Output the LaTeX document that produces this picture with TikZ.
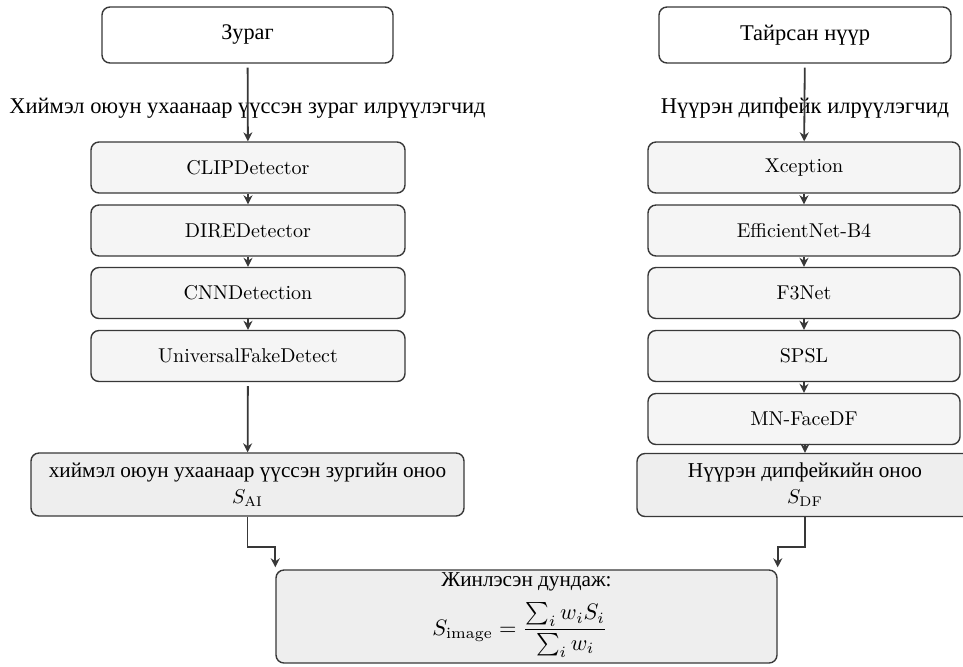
\documentclass[tikz,border=0pt]{standalone}
\usepackage{amsmath}
\usepackage{graphicx}
\usepackage{fontspec}
\newfontfamily\cyr{Liberation Serif}[Scale=1.06]
\usetikzlibrary{arrows.meta,calc}
\definecolor{edge}{HTML}{383838}
\definecolor{detfill}{HTML}{F5F5F5}
\definecolor{scorefill}{HTML}{EEEEEE}
\tikzset{
  base/.style={draw=edge, line width=0.7pt, rounded corners=4pt, align=center, inner sep=0pt},
  topbox/.style={base, fill=white, minimum width=145.5pt, minimum height=28pt},
  detbox/.style={base, fill=detfill, minimum height=25.5pt},
  scorebox/.style={base, fill=scorefill},
  grouplabel/.style={inner sep=1pt, font=\fontsize{10.6}{12}\selectfont},
  arr/.style={draw=edge, line width=0.9pt, -{Stealth[length=4.5pt,width=4.5pt]}},
}
\begin{document}
\begin{tikzpicture}[x=0.5pt,y=-0.5pt, font=\fontsize{10}{12}\selectfont]
\useasboundingbox (0,0) rectangle (963,666);
\clip (0,0) rectangle (963,666);

% inputs
\node[topbox, font=\fontsize{10.5}{12}\selectfont] (img) at (247.5,35) {\cyr Зураг};
\node[topbox, minimum width=146pt, font=\fontsize{10.6}{12}\selectfont] (face) at (805,35) {\cyr Тайрсан нүүр};

% group labels
\node[grouplabel] (imglbl) at (247.5,108) {\cyr Хиймэл оюун ухаанаар үүссэн зураг илрүүлэгчид};
\node[grouplabel] (facelbl) at (805,108) {\cyr Нүүрэн дипфейк илрүүлэгчид};

% AI-image detectors
\node[detbox, minimum width=157pt] (a1) at (248,167.5) {CLIPDetector};
\node[detbox, minimum width=157pt] (a2) at (248,230.5) {DIREDetector};
\node[detbox, minimum width=157pt] (a3) at (248,293) {CNNDetection};
\node[detbox, minimum width=157pt] (a4) at (248,356) {UniversalFakeDetect};

% face deepfake detectors
\node[detbox, minimum width=156pt] (b1) at (804,167.5) {Xception};
\node[detbox, minimum width=156pt] (b2) at (804,230.5) {EfficientNet-B4};
\node[detbox, minimum width=156pt] (b3) at (804,293) {F3Net};
\node[detbox, minimum width=156pt] (b4) at (804,356) {SPSL};
\node[detbox, minimum width=156pt] (b5) at (804,419) {MN-FaceDF};

% scores
\node[scorebox, minimum width=216.5pt, minimum height=31.5pt] (ais) at (247.5,484.5)
  {{\cyr хиймэл оюун ухаанаар үүссэн зургийн оноо}\\[1pt] $S_{\mathrm{AI}}$};
\node[scorebox, minimum width=168pt, minimum height=31.5pt] (dfs) at (805,485)
  {{\cyr Нүүрэн дипфейкийн оноо}\\[1pt] $S_{\mathrm{DF}}$};

% fusion: box, heading and formula
\node[scorebox, minimum width=250.5pt, minimum height=46.5pt] (fin) at (526.5,616.5) {};
\node[inner sep=0pt] (fintitle) at (526.5,582) {\cyr Жинлэсэн дундаж:};
\node[inner sep=0pt] (finformula) at (520,630)
  {\scalebox{1.12}{$S_{\mathrm{image}} = \dfrac{\sum_i w_i S_i}{\sum_i w_i}$}};

% connectors
\draw[arr, shorten <=2pt] (img) -- (a1);
\draw[arr] (a1) -- (a2);
\draw[arr] (a2) -- (a3);
\draw[arr] (a3) -- (a4);
\draw[arr, shorten <=2pt] (a4) -- (ais);

\draw[arr, shorten <=2pt] (face) -- (b1);
\draw[arr] (b1) -- (b2);
\draw[arr] (b2) -- (b3);
\draw[arr] (b3) -- (b4);
\draw[arr] (b4) -- (b5);
\draw[arr] (b5.south -| dfs.north) -- (dfs.north);

\draw[arr] (ais.south) |- ($(fin.north west)+(0,-22)$) -- ($(fin.north west)+(0,-2)$);
\draw[arr] (dfs.south) |- ($(fin.north east)+(0,-22)$) -- ($(fin.north east)+(0,-2)$);
\end{tikzpicture}
\end{document}
